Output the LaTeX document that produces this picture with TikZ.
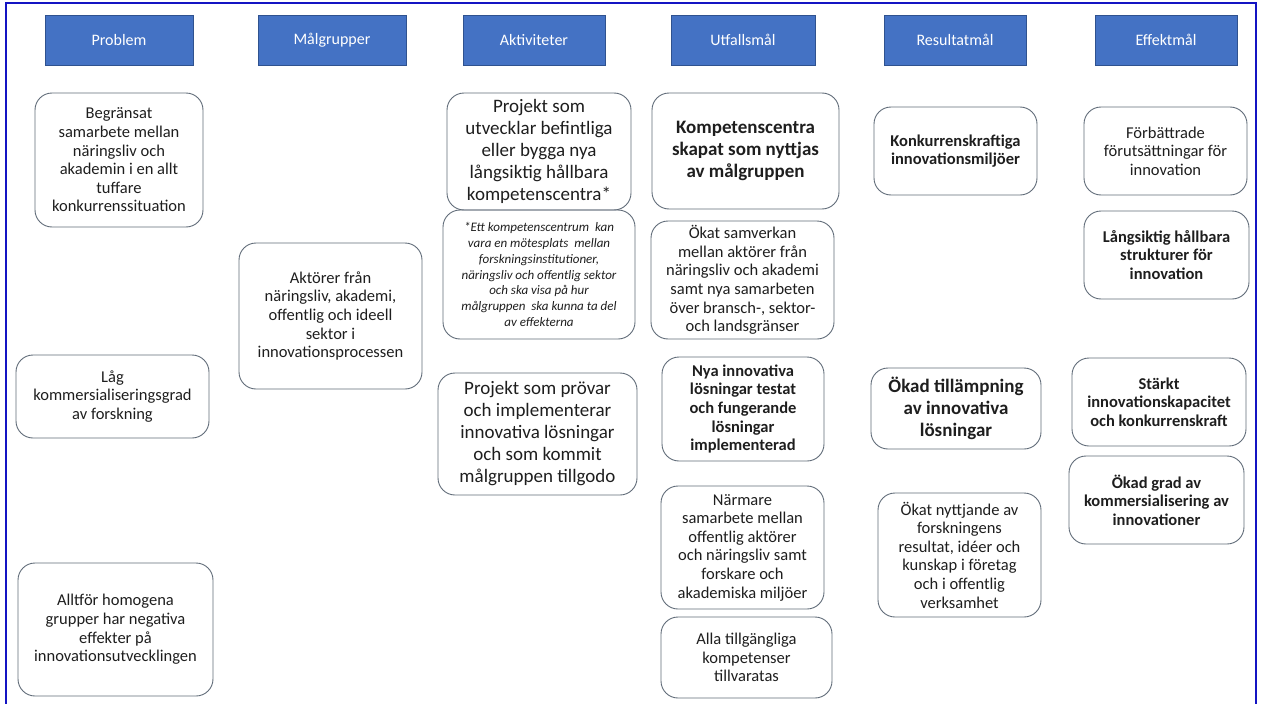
\documentclass[tikz,border=0pt]{standalone}
\usepackage{fontspec}
\setmainfont{Carlito}
\usepackage{xcolor}
\usetikzlibrary{positioning}

\definecolor{hdrblue}{RGB}{68,114,196}
\definecolor{hdrline}{RGB}{47,82,143}
\definecolor{cardline}{RGB}{96,107,120}
\definecolor{cardtext}{RGB}{30,30,30}
\definecolor{framecol}{RGB}{20,20,195}

\tikzset{
	header/.style={draw=hdrline,fill=hdrblue,text=white,line width=0.6pt,
		font=\fontsize{16}{19}\selectfont,minimum height=50,inner sep=0pt},
	card/.style={draw=cardline,line width=0.9pt,rounded corners=17pt,align=center,
		text=cardtext,inner sep=1pt,font=\fontsize{16.5}{18.6}\selectfont},
	boldcard/.style={card,font=\fontsize{16.5}{18.6}\selectfont\bfseries},
	bigcard/.style={card,font=\fontsize{19}{22}\selectfont},
	bigbold/.style={card,font=\fontsize{19}{22}\selectfont\bfseries},
	notecard/.style={card,font=\fontsize{13}{15.7}\selectfont\itshape}
}

\begin{document}
\begin{tikzpicture}[x=1pt,y=-1pt]
	\useasboundingbox (0,0) rectangle (1262,704);
	% outer frame, open at the bottom
	\draw[framecol,line width=2pt] (6,704) -- (6,3) -- (1256,3) -- (1256,704);

	% Column heads
	\node[header,minimum width=148] (hProb) at (119,40) {Problem};
	\node[header,minimum width=148] (hMal) at (332,40) {Målgrupper};
	\node[header,minimum width=142] (hAkt) at (534,40) {Aktiviteter};
	\node[header,minimum width=144] (hUtf) at (743,40) {Utfallsmål};
	\node[header,minimum width=142] (hRes) at (955,40) {Resultatmål};
	\node[header,minimum width=142] (hEff) at (1166,40) {Effektmål};

	% Problem
	\node[card,minimum width=168,minimum height=134] (prob1) at (119,160)
		{Begränsat\\samarbete mellan\\näringsliv och\\akademin i en allt\\tuffare\\konkurrenssituation};
	\node[card,minimum width=193,minimum height=83] (prob2) at (112.5,396.5)
		{Låg\\kommersialiseringsgrad\\av forskning};
	\node[card,minimum width=195,minimum height=133] (prob3) at (115.5,629.5)
		{Alltför homogena\\grupper har negativa\\effekter på\\innovationsutvecklingen};

	% Målgrupper
	\node[card,minimum width=183,minimum height=146] (mal1) at (330.5,316)
		{Aktörer från\\näringsliv, akademi,\\offentlig och ideell\\sektor i\\innovationsprocessen};

	% Aktiviteter
	\node[bigcard,minimum width=184,minimum height=117] (akt1) at (539,151.5)
		{Projekt som\\utvecklar befintliga\\eller bygga nya\\långsiktig hållbara\\kompetenscentra*};
	\node[notecard,minimum width=192,minimum height=129] (akt2) at (539,274.5)
		{*Ett kompetenscentrum\ \ kan\\vara en mötesplats\ \ mellan\\forskningsinstitutioner,\\näringsliv och offentlig sektor\\och ska visa på hur\\målgruppen\ \ ska kunna ta del\\av effekterna};
	\node[bigcard,minimum width=199,minimum height=122] (akt3) at (537.5,434)
		{Projekt som prövar\\och implementerar\\innovativa lösningar\\och som kommit\\målgruppen tillgodo};

	% Utfallsmål
	\node[bigbold,minimum width=187,minimum height=116] (utf1) at (745.5,151)
		{Kompetenscentra\\skapat som nyttjas\\av målgruppen};
	\node[card,minimum width=183,minimum height=118] (utf2) at (742.5,280)
		{Ökat samverkan\\mellan aktörer från\\näringsliv och akademi\\samt nya samarbeten\\över bransch-, sektor-\\och landsgränser};
	\node[boldcard,minimum width=162,minimum height=104] (utf3) at (743,409)
		{Nya innovativa\\lösningar testat\\och fungerande\\lösningar\\implementerad};
	\node[card,minimum width=163,minimum height=123] (utf4) at (742.5,547.5)
		{Närmare\\samarbete mellan\\offentlig aktörer\\och näringsliv samt\\forskare och\\akademiska miljöer};
	\node[card,minimum width=171,minimum height=81] (utf5) at (746.5,657.5)
		{Alla tillgängliga\\kompetenser\\tillvaratas};

	% Resultatmål
	\node[boldcard,minimum width=163,minimum height=88] (res1) at (955.5,151)
		{Konkurrenskraftiga\\innovationsmiljöer};
	\node[bigbold,minimum width=170,minimum height=81] (res2) at (956,408.5)
		{Ökad tillämpning\\av innovativa\\lösningar};
	\node[card,minimum width=163,minimum height=124] (res3) at (959.5,555)
		{Ökat nyttjande av\\forskningens\\resultat, idéer och\\kunskap i företag\\och i offentlig\\verksamhet};

	% Effektmål
	\node[card,minimum width=163,minimum height=88] (eff1) at (1165.5,151)
		{Förbättrade\\förutsättningar för\\innovation};
	\node[boldcard,minimum width=165,minimum height=88] (eff2) at (1166.5,255)
		{Långsiktig hållbara\\strukturer för\\innovation};
	\node[boldcard,minimum width=174,minimum height=88] (eff3) at (1159,402)
		{Stärkt\\innovationskapacitet\\och konkurrenskraft};
	\node[boldcard,minimum width=175,minimum height=88] (eff4) at (1156.5,500)
		{Ökad grad av\\kommersialisering av\\innovationer};
\end{tikzpicture}
\end{document}
